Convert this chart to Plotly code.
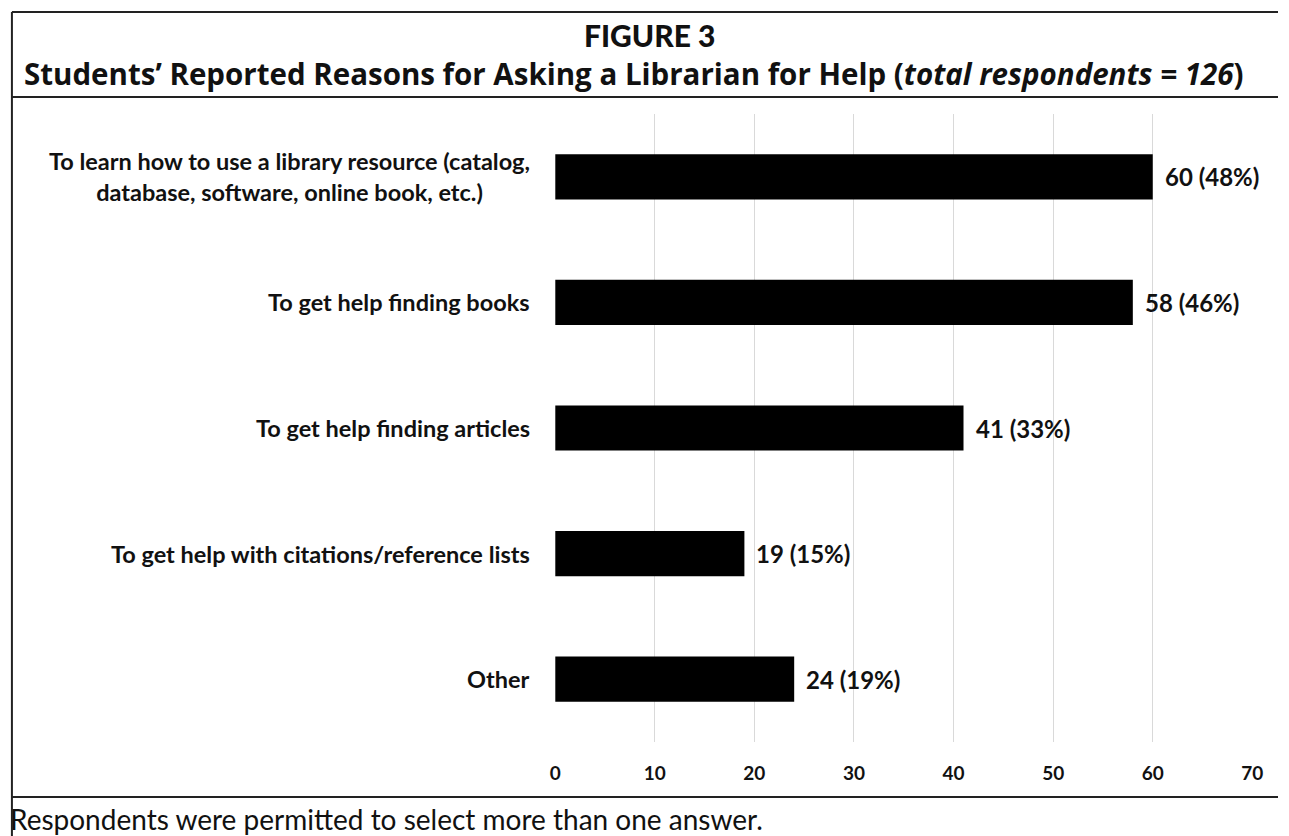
import plotly.graph_objects as go

# Survey responses: reasons students gave for asking a librarian for help
categories = [
    "To learn how to use a library resource (catalog,<br>database, software, online book, etc.)",
    "To get help finding books",
    "To get help finding articles",
    "To get help with citations/reference lists",
    "Other",
]
counts = [60, 58, 41, 19, 24]
percents = [48, 46, 33, 15, 19]
x_ticks = [0, 10, 20, 30, 40, 50, 60, 70]

W, H = 1289, 836
FONT = "Lato"
HEAD_FONT = "Open Sans"
INK = "#111111"


def fx(px):
    """Pixel x -> paper x."""
    return px / W


def fy(py):
    """Pixel y (from top) -> paper y."""
    return 1 - py / H


fig = go.Figure()
fig.add_trace(
    go.Bar(
        x=counts,
        y=categories,
        orientation="h",
        width=0.36,
        marker=dict(color="#000000", line=dict(width=0)),
        hoverinfo="x+y",
    )
)

annotations = []

# Category labels, right-aligned beside the plot, multi-line text centred
for cat in categories:
    annotations.append(
        dict(
            x=fx(533), y=cat, xref="paper", yref="y",
            text=cat, showarrow=False, xanchor="right", yanchor="middle",
            align="center",
            font=dict(family=FONT, size=23.5, color=INK, weight="bold"),
        )
    )

# Value labels at the end of each bar
for cat, v, p in zip(categories, counts, percents):
    annotations.append(
        dict(
            x=v, y=cat, xref="x", yref="y",
            text=f"{v} ({p}%)", showarrow=False, xanchor="left", yanchor="middle",
            xshift=10,
            font=dict(family=FONT, size=24, color=INK, weight="bold"),
        )
    )

# Figure heading
annotations.append(
    dict(
        x=fx(652), y=fy(35), xref="paper", yref="paper",
        text="FIGURE 3", showarrow=False, xanchor="center", yanchor="middle",
        font=dict(family=FONT, size=30, color=INK, weight=900),
    )
)
annotations.append(
    dict(
        x=fx(636), y=fy(74), xref="paper", yref="paper",
        text="Students’ Reported Reasons for Asking a Librarian for Help (<i>total respondents = 126</i>)",
        showarrow=False, xanchor="center", yanchor="middle",
        font=dict(family=HEAD_FONT, size=29.5, color=INK, weight="bold"),
    )
)

# Footnote
annotations.append(
    dict(
        x=fx(2), y=fy(819), xref="paper", yref="paper",
        text="Respondents were permitted to select more than one answer.",
        showarrow=False, xanchor="left", yanchor="middle",
        font=dict(family=FONT, size=28, color=INK),
    )
)

# Frame lines around the figure
line_style = dict(color="#222222", width=2)
shapes = [
    dict(type="line", xref="paper", yref="paper",
         x0=fx(6), x1=1, y0=fy(12), y1=fy(12), line=line_style),
    dict(type="line", xref="paper", yref="paper",
         x0=fx(6), x1=fx(6), y0=fy(12), y1=0, line=line_style),
    dict(type="line", xref="paper", yref="paper",
         x0=fx(6), x1=1, y0=fy(97), y1=fy(97), line=line_style),
    dict(type="line", xref="paper", yref="paper",
         x0=fx(6), x1=1, y0=fy(797), y1=fy(797), line=line_style),
]

fig.update_layout(
    width=W,
    height=H,
    margin=dict(l=0, r=0, t=0, b=0),
    paper_bgcolor="white",
    plot_bgcolor="white",
    showlegend=False,
    annotations=annotations,
    shapes=shapes,
    xaxis=dict(
        domain=[fx(556.5), fx(1263)],
        range=[0, 70],
        tickvals=x_ticks,
        ticktext=[str(t) for t in x_ticks],
        showgrid=True,
        gridcolor="#d9d9d9",
        gridwidth=1,
        zeroline=False,
        showline=False,
        ticks="",
        ticklabelstandoff=18,
        tickfont=dict(family=FONT, size=19, color=INK, weight="bold"),
    ),
    yaxis=dict(
        domain=[fy(742), fy(114)],
        categoryorder="array",
        categoryarray=categories,
        autorange="reversed",
        showticklabels=False,
        showgrid=False,
        zeroline=False,
        showline=False,
        ticks="",
    ),
)

fig.write_html("out.html")
